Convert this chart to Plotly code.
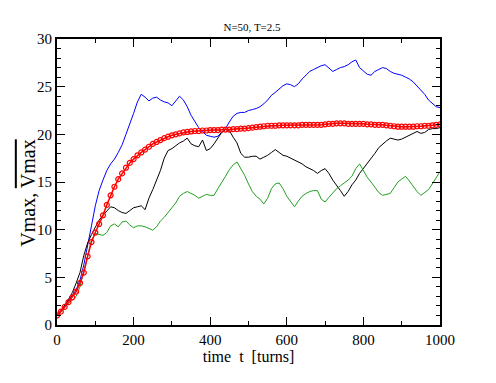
import plotly.graph_objects as go

t = list(range(0, 1001, 10))

blue = [1.0, 1.5, 2.0, 2.6, 3.1, 3.7, 4.7, 6.3, 8.2, 10.4,
        12.5, 14.1, 15.2, 16.2, 16.9, 17.4, 18.1, 18.9, 20.0, 21.0,
        22.2, 23.4, 24.2, 23.9, 23.5, 23.8, 23.9, 23.6, 23.4, 23.3,
        23.0, 23.5, 24.0, 23.6, 22.9, 22.0, 21.3, 20.7, 20.3, 19.9,
        19.8, 19.7, 19.8, 20.2, 20.6, 21.3, 21.9, 22.2, 22.3, 22.3,
        22.5, 22.6, 22.7, 22.9, 23.2, 23.6, 24.1, 24.4, 24.8, 25.1,
        25.3, 25.2, 25.0, 25.3, 25.8, 26.2, 26.6, 26.8, 27.0, 27.2,
        27.3, 26.9, 26.6, 26.8, 27.0, 27.1, 27.3, 27.6, 27.8, 27.0,
        26.6, 26.3, 26.2, 26.6, 26.8, 27.0, 26.9, 26.6, 26.4, 26.3,
        26.2, 26.0, 25.8, 25.5, 25.1, 24.7, 24.2, 23.6, 23.2, 22.9,
        22.8]

black = [1.0, 1.4, 2.0, 2.7, 3.4, 4.4, 5.5, 7.3, 8.6, 9.5,
         10.3, 11.0, 11.5, 12.0, 12.4, 12.3, 12.0, 11.8, 11.7, 12.0,
         12.3, 12.4, 12.5, 12.1, 13.3, 14.2, 15.2, 16.2, 17.5, 18.3,
         18.5, 18.8, 19.1, 19.3, 19.6, 19.0, 18.8, 18.7, 19.4, 18.3,
         18.5, 19.0, 19.6, 20.2, 20.5, 20.4, 19.7, 19.1, 18.0, 17.6,
         17.6, 17.7, 17.7, 17.4, 17.6, 17.8, 18.1, 18.4, 18.1, 17.8,
         17.7, 17.5, 17.3, 17.1, 16.9, 16.6, 16.4, 16.2, 15.9, 16.2,
         16.4, 15.9, 15.2, 14.7, 14.1, 13.5, 14.0, 14.7, 15.2, 15.9,
         16.4, 16.9, 17.4, 18.0, 18.6, 19.0, 19.3, 19.6, 19.5, 19.4,
         19.5, 19.7, 19.9, 20.1, 20.3, 20.1, 20.2, 20.5, 20.6, 20.6,
         20.7]

green = [1.0, 1.3, 1.8, 2.3, 2.6, 3.0, 4.0, 5.6, 7.0, 8.9,
         9.6, 9.5, 9.4, 9.7, 10.4, 10.6, 10.3, 10.8, 10.9, 10.5,
         10.2, 10.4, 10.4, 10.3, 10.1, 9.95, 10.3, 10.9, 11.3, 11.8,
         12.3, 12.8, 13.5, 13.8, 14.0, 13.8, 13.6, 13.3, 13.5, 13.7,
         13.6, 13.6, 14.3, 14.9, 15.6, 16.3, 16.8, 17.1, 16.4, 15.7,
         14.8, 14.0, 13.5, 13.2, 12.7, 13.3, 14.3, 14.8, 14.9, 14.3,
         13.5, 12.9, 12.4, 13.0, 13.5, 13.8, 14.0, 14.1, 14.1, 13.2,
         12.9, 13.4, 13.9, 14.3, 14.6, 14.9, 15.2, 15.6, 16.4, 16.9,
         16.2, 15.5, 15.0, 14.5, 13.9, 13.6, 13.7, 13.8, 14.4, 15.0,
         15.3, 15.6, 15.1, 14.5, 14.0, 13.6, 13.9, 14.2, 14.8, 15.5,
         16.1]

red = [1.0, 1.4, 1.9, 2.4, 2.9, 3.5, 4.4, 5.5, 7.2, 8.7,
       9.7, 10.6, 11.5, 12.6, 13.6, 14.5, 15.3, 15.9, 16.5, 17.0,
       17.4, 17.8, 18.1, 18.4, 18.7, 19.0, 19.2, 19.4, 19.6, 19.75,
       19.9, 20.0, 20.1, 20.2, 20.25, 20.3, 20.35, 20.35, 20.4, 20.4,
       20.45, 20.45, 20.45, 20.5, 20.5, 20.5, 20.55, 20.55, 20.6, 20.6,
       20.65, 20.7, 20.75, 20.8, 20.85, 20.9, 20.9, 20.9, 20.95, 20.95,
       20.95, 20.95, 20.95, 20.95, 21.0, 21.0, 21.0, 21.0, 21.0, 21.0,
       21.05, 21.1, 21.1, 21.15, 21.15, 21.15, 21.1, 21.1, 21.1, 21.1,
       21.1, 21.05, 21.05, 21.0, 21.0, 21.0, 20.95, 20.9, 20.85, 20.8,
       20.8, 20.8, 20.8, 20.8, 20.85, 20.85, 20.9, 20.9, 20.95, 21.0,
       21.05]

FONT = "Liberation Serif"

fig = go.Figure()
fig.add_trace(go.Scatter(x=t, y=blue, mode="lines", line=dict(color="#0000ff", width=1), showlegend=False))
fig.add_trace(go.Scatter(x=t, y=black, mode="lines", line=dict(color="#000000", width=1), showlegend=False))
fig.add_trace(go.Scatter(x=t, y=green, mode="lines", line=dict(color="#22a022", width=1), showlegend=False))
fig.add_trace(go.Scatter(x=t, y=red, mode="lines+markers",
                         line=dict(color="#ff0000", width=1.5),
                         marker=dict(symbol="circle-open", size=5, color="#ff0000", line=dict(width=1.2)),
                         showlegend=False))

axis_common = dict(
    showline=True, linecolor="black", linewidth=2, mirror="allticks",
    ticks="inside", ticklen=8, tickwidth=1, tickcolor="black",
    showgrid=False, zeroline=False,
    tickfont=dict(family=FONT, size=15, color="black"),
)

W, H = 488, 375
fig.update_layout(
    width=W, height=H,
    margin=dict(l=49, r=56, t=31, b=58),
    paper_bgcolor="white", plot_bgcolor="white",
    font=dict(family=FONT, color="black"),
    title=dict(text="N=50, T=2.5", x=0.5, xanchor="center", y=1 - 19 / H, yanchor="middle",
               font=dict(family=FONT, size=11, color="black")),
    xaxis=dict(range=[0, 1000], tick0=0, dtick=200,
               minor=dict(dtick=100, ticks="inside", ticklen=4, tickcolor="black", tickwidth=1),
               title=dict(text="time  t  [turns]", font=dict(family=FONT, size=16, color="black"), standoff=0),
               **axis_common),
    yaxis=dict(range=[0, 30], tick0=0, dtick=5,
               minor=dict(dtick=1, ticks="inside", ticklen=4, tickcolor="black", tickwidth=1),
               **axis_common),
    annotations=[dict(
        text='Vmax, <span style="text-decoration:overline">Vmax</span>',
        xref="paper", yref="paper", x=-0.075, y=0.46, xanchor="center", yanchor="middle",
        textangle=-90, showarrow=False,
        font=dict(family=FONT, size=20, color="black"))],
)

fig.write_html("out.html")
